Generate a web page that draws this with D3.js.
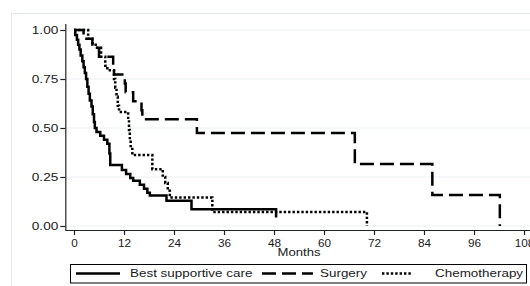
<!DOCTYPE html>
<html>
<head>
<meta charset="utf-8">
<script src="https://cdn.jsdelivr.net/npm/d3@7"></script>
<style>
  body { margin: 0; background: #fff; }
  text { font-family: "Liberation Sans", Arial, sans-serif; fill: #1a1a1a; }
</style>
</head>
<body>
<div id="km"></div>
<script>

// Kaplan-Meier estimates (months, survival)
const seriesNames = ["Best supportive care", "Surgery", "Chemotherapy"];

const bscTimes = [0, 0.3, 0.7, 1, 1.3, 1.6, 2, 2.3, 2.6, 2.9, 3.2, 3.5, 3.8, 4.2, 4.5, 4.8, 5.0, 5.4, 6.3, 7.2, 8.0, 8.5, 8.7, 11.5, 12.5, 13.5, 14.2, 15.8, 16.8, 17.6, 18.2, 22.2, 28.2, 48.5];
const bscSurv  = [1, 0.975, 0.95, 0.925, 0.9, 0.87, 0.84, 0.81, 0.78, 0.75, 0.71, 0.675, 0.64, 0.61, 0.57, 0.53, 0.5, 0.48, 0.46, 0.44, 0.42, 0.37, 0.311, 0.286, 0.265, 0.245, 0.231, 0.21, 0.19, 0.17, 0.155, 0.129, 0.085, 0.043];

const surgTimes = [0, 2.3, 4.4, 6, 9.4, 9.6, 12.2, 12.4, 14.2, 16.2, 16.4, 29.5, 67.4, 86, 102.2];
const surgSurv  = [1, 0.955, 0.909, 0.864, 0.818, 0.773, 0.727, 0.682, 0.636, 0.591, 0.545, 0.474, 0.316, 0.158, 0];

const chemoTimes = [0, 3.4, 4.4, 5.2, 6.5, 7.5, 8, 9.6, 9.9, 10.2, 10.5, 10.8, 13, 13.2, 13.4, 13.6, 14, 18.8, 21.3, 21.9, 22.5, 23, 33.2, 70.3];
const chemoSurv  = [1, 0.955, 0.932, 0.909, 0.864, 0.818, 0.795, 0.75, 0.705, 0.66, 0.614, 0.582, 0.54, 0.49, 0.44, 0.40, 0.362, 0.29, 0.25, 0.22, 0.18, 0.145, 0.072, 0];

const xTicks = [0, 12, 24, 36, 48, 60, 72, 84, 96, 108];
const yTicks = [0, 0.25, 0.5, 0.75, 1];

const width = 530;
const height = 286;

const dashes = ["none", "14,6", "2.4,2"];

let svg = d3.select("#km")
    .append("svg")
    .attr("width", width)
    .attr("height", height);

// faint outer graph-region border
svg.append("rect")
    .attr("x", 11.5).attr("y", 13.5)
    .attr("width", 700).attr("height", 400)
    .attr("fill", "none")
    .attr("stroke", "#e2e9e9");

let xScale = d3.scaleLinear().domain([0, 108]).range([74, 524]);
let yScale = d3.scaleLinear().domain([0, 1]).range([226, 30]);

// gridlines
svg.selectAll("line.grid")
    .data(yTicks)
    .join("line")
    .classed("grid", true)
    .attr("x1", 66).attr("x2", width)
    .attr("y1", d => yScale(d)).attr("y2", d => yScale(d))
    .attr("stroke", "#ebf1f1")
    .attr("stroke-width", 1);

// axes
let xAxis = d3.axisBottom(xScale).tickValues(xTicks).tickSize(5).tickFormat(d3.format("d"));
let yAxis = d3.axisLeft(yScale).tickValues(yTicks).tickSize(5).tickFormat(d3.format(".2f"));

let gx = svg.append("g").attr("transform", "translate(0,230)").call(xAxis);
gx.select(".domain").attr("d", `M65.3,0.5H${width}`);
gx.selectAll(".tick text")
    .attr("y", 17.3).attr("dy", 0)
    .style("font-size", "10.5px")
    .attr("transform", "scale(1.12,1)");

let gy = svg.append("g").attr("transform", "translate(65.3,0)").call(yAxis);
gy.select(".domain").attr("d", "M0.5,24V230");
gy.selectAll(".tick text")
    .attr("x", -7 / 1.3)
    .style("font-size", "10.5px")
    .attr("transform", "scale(1.3,1)");

[gx, gy].forEach(g => {
    g.selectAll("path, line").attr("stroke", "#222").attr("stroke-width", 1.2);
    g.selectAll("text").attr("fill", "#1a1a1a").style("font-family", "Liberation Sans, Arial, sans-serif");
});

svg.append("text")
    .attr("transform", `translate(${xScale(54)},255.5) scale(1.25,1)`)
    .attr("text-anchor", "middle")
    .style("font-size", "10.5px")
    .text("Months");

// curves
let curves = [
    bscTimes.map((t, i) => [t, bscSurv[i]]),
    surgTimes.map((t, i) => [t, surgSurv[i]]),
    chemoTimes.map((t, i) => [t, chemoSurv[i]])
];

let line = d3.line()
    .x(d => xScale(d[0]))
    .y(d => yScale(d[1]))
    .curve(d3.curveStepAfter);

svg.selectAll("path.km")
    .data(curves)
    .join("path")
    .classed("km", true)
    .attr("d", line)
    .attr("fill", "none")
    .attr("stroke", "#000")
    .attr("stroke-width", 2.5)
    .attr("stroke-dasharray", (d, i) => dashes[i]);

// legend
let legend = svg.append("g");
legend.append("rect")
    .attr("x", 70.5).attr("y", 264.5)
    .attr("width", 456).attr("height", 18.5)
    .attr("fill", "#fff")
    .attr("stroke", "#000")
    .attr("stroke-width", 1);

const legendLine = [[76, 120], [262, 313], [382, 412]];
const legendText = [130, 320, 435];

legend.selectAll("line.key")
    .data(seriesNames)
    .join("line")
    .classed("key", true)
    .attr("x1", (d, i) => legendLine[i][0])
    .attr("x2", (d, i) => legendLine[i][1])
    .attr("y1", 273.5).attr("y2", 273.5)
    .attr("stroke", "#000")
    .attr("stroke-width", 2.5)
    .attr("stroke-dasharray", (d, i) => dashes[i]);

legend.selectAll("text.key")
    .data(seriesNames)
    .join("text")
    .classed("key", true)
    .attr("transform", (d, i) => `translate(${legendText[i]},277.3) scale(1.28,1)`)
    .style("font-size", "10.5px")
    .text(d => d);

</script>
</body>
</html>
